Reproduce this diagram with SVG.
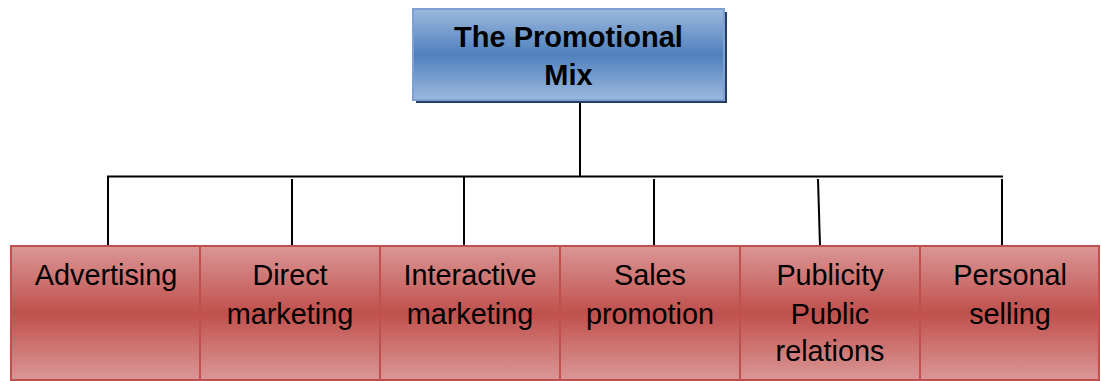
<svg xmlns="http://www.w3.org/2000/svg" width="1101" height="381" viewBox="0 0 1101 381">
<defs>
<linearGradient id="gb" x1="0" y1="0" x2="0" y2="1">
<stop offset="0" stop-color="#9db9de"/>
<stop offset="0.5" stop-color="#4f81bd"/>
<stop offset="1" stop-color="#9db9de"/>
</linearGradient>
<linearGradient id="gr" x1="0" y1="0" x2="0" y2="1">
<stop offset="0" stop-color="#da9796"/>
<stop offset="0.5" stop-color="#c0504d"/>
<stop offset="1" stop-color="#da9796"/>
</linearGradient>
<style>
.box{fill:url(#gr);stroke:#c0504d;stroke-width:2}
.t{font-family:"Liberation Sans",Arial,sans-serif;font-size:28.8px;fill:#000;text-anchor:middle}
.tb{font-family:"Liberation Sans",Arial,sans-serif;font-size:29px;font-weight:bold;fill:#000;text-anchor:middle}
.c{stroke:#000;stroke-width:2;fill:none}
</style>
</defs>
<g id="connectors">
<line class="c" x1="580" y1="100" x2="580" y2="177"/>
<line class="c" x1="107" y1="176.5" x2="1003" y2="176.5"/>
<line class="c" x1="108" y1="176" x2="108" y2="246"/>
<line class="c" x1="292" y1="179" x2="292" y2="248"/>
<line class="c" x1="464" y1="176" x2="464" y2="246"/>
<line class="c" x1="654" y1="179" x2="654" y2="246"/>
<line class="c" x1="818" y1="179" x2="820" y2="246"/>
<line class="c" x1="1002" y1="179" x2="1002" y2="246"/>
</g>
<g id="top">
<rect x="416" y="12" width="311" height="91" fill="#243f60"/>
<rect x="413" y="9" width="311" height="91" fill="url(#gb)" stroke="#7ea0d2" stroke-width="2"/>
<text class="tb" x="568.5" y="47">The Promotional</text>
<text class="tb" x="568.5" y="85">Mix</text>
</g>
<g id="advertising">
<rect class="box" x="11" y="246" width="189" height="134"/>
<text class="t" x="106" y="285">Advertising</text>
</g>
<g id="direct">
<rect class="box" x="200" y="246" width="180" height="134"/>
<text class="t" x="290" y="285">Direct</text>
<text class="t" x="290" y="324">marketing</text>
</g>
<g id="interactive">
<rect class="box" x="380" y="246" width="180" height="134"/>
<text class="t" x="470" y="285">Interactive</text>
<text class="t" x="470" y="324">marketing</text>
</g>
<g id="sales">
<rect class="box" x="560" y="246" width="180" height="134"/>
<text class="t" x="650" y="285">Sales</text>
<text class="t" x="650" y="324">promotion</text>
</g>
<g id="publicity">
<rect class="box" x="740" y="246" width="180" height="134"/>
<text class="t" x="830" y="285">Publicity</text>
<text class="t" x="830" y="324">Public</text>
<text class="t" x="830" y="361">relations</text>
</g>
<g id="personal">
<rect class="box" x="920" y="246" width="179" height="134"/>
<text class="t" x="1010" y="285">Personal</text>
<text class="t" x="1010" y="324">selling</text>
</g>
</svg>
